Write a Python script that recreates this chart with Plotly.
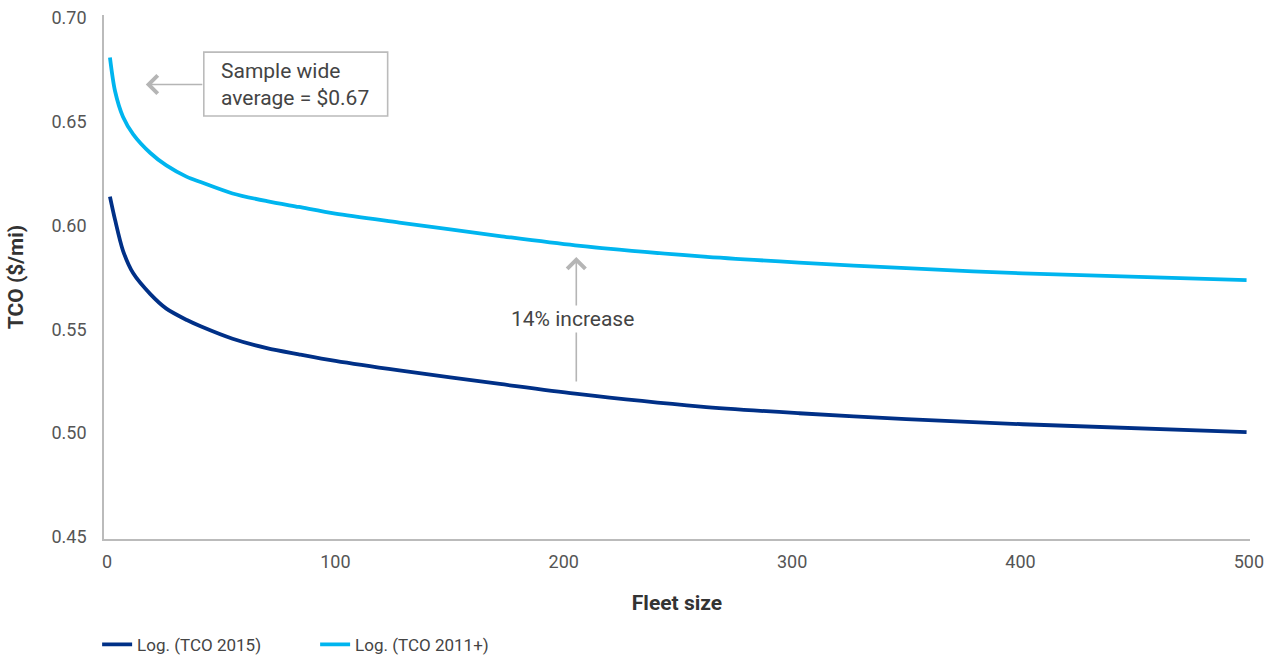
import plotly.graph_objects as go

# Data
fleet_size = [1.3, 3.5, 7, 11.5, 19, 26, 35, 41, 55, 70, 84, 100, 128, 172, 205, 260, 303, 350, 401, 499]
tco_2015 = [0.614, 0.603, 0.588, 0.577, 0.567, 0.560, 0.5545, 0.5515, 0.5455, 0.541, 0.538, 0.5348,
            0.5302, 0.5237, 0.519, 0.5128, 0.5096, 0.5068, 0.5043, 0.5005]
tco_2011 = [0.681, 0.665, 0.6525, 0.644, 0.635, 0.629, 0.6235, 0.621, 0.6155, 0.6118, 0.609, 0.6058,
            0.6015, 0.595, 0.5905, 0.5852, 0.5822, 0.5795, 0.577, 0.5737]

series_names = ["Log. (TCO 2015)", "Log. (TCO 2011+)"]
series_colors = ["#003087", "#00b5ef"]

x_ticks = [0, 100, 200, 300, 400, 500]
y_ticks = [0.45, 0.50, 0.55, 0.60, 0.65, 0.70]

FONT = "Roboto, Liberation Sans, Arial, sans-serif"

fig = go.Figure()
for name, vals, col in zip(series_names, [tco_2015, tco_2011], series_colors):
    fig.add_trace(go.Scatter(
        x=fleet_size, y=vals, name=name, mode="lines",
        line=dict(color=col, width=3.8, shape="spline", smoothing=0.8),
    ))

fig.update_layout(
    width=1268, height=658,
    margin=dict(l=104, r=18, t=15, b=119),
    paper_bgcolor="white", plot_bgcolor="white",
    font=dict(family=FONT, color="#555555", size=18),
    showlegend=True,
    legend=dict(orientation="h", x=-0.006, xanchor="left", yref="container", y=0.02, yanchor="middle",
                font=dict(size=17, color="#444444"), itemwidth=30,
                entrywidth=173, entrywidthmode="pixels"),
    xaxis=dict(range=[-1.3, 500.5], tickvals=x_ticks, ticktext=[str(v) for v in x_ticks],
               automargin=False, ticklabeloverflow="allow",
               showgrid=False, zeroline=False, showline=True, linecolor="#bbbbbb", linewidth=1.6,
               ticks="", tickfont=dict(size=18, color="#555555"), ticklabelstandoff=6,
               title=dict(text="<b>Fleet size</b>", font=dict(size=21, color="#333333"), standoff=24)),
    yaxis=dict(range=[0.449, 0.7015], tickvals=y_ticks, ticktext=[f"{v:.2f}" for v in y_ticks],
               automargin=False,
               showgrid=False, zeroline=False, showline=True, linecolor="#bbbbbb", linewidth=1.6,
               ticks="", tickfont=dict(size=18, color="#555555"), ticklabelstandoff=12,
               title=dict(text="<b>TCO ($/mi)</b>", font=dict(size=21, color="#333333"), standoff=22)),
)

# Annotation box "Sample wide average"
fig.add_shape(type="rect", xref="x", yref="y", x0=42.4, x1=122.9, y0=0.6528, y1=0.6836,
              line=dict(color="#bbbbbb", width=1.6), fillcolor="white")
fig.add_annotation(x=49, y=0.6682, xref="x", yref="y", xanchor="left", yanchor="middle",
                   text="Sample wide<br>average = $0.67", showarrow=False, align="left",
                   font=dict(size=21, color="#444444", family=FONT))
fig.add_annotation(x=17, y=0.668, ax=42.4, ay=0.668, xref="x", yref="y", axref="x", ayref="y",
                   text="", showarrow=True, arrowhead=4, arrowsize=2.2, arrowwidth=1.6,
                   arrowcolor="#b5b5b5")

# 14% increase arrow
fig.add_annotation(x=205.5, y=0.5849, ax=205.5, ay=0.5242, xref="x", yref="y", axref="x", ayref="y",
                   text="", showarrow=True, arrowhead=4, arrowsize=2.2, arrowwidth=1.6,
                   arrowcolor="#b5b5b5")
fig.add_annotation(x=203.8, y=0.5550, xref="x", yref="y", text="14% increase", showarrow=False,
                   bgcolor="white", borderpad=1,
                   font=dict(size=21, color="#444444", family=FONT))

fig.write_html("out.html", config={"displayModeBar": False},
               post_script="document.body.style.margin='0';document.body.style.overflow='hidden';")
